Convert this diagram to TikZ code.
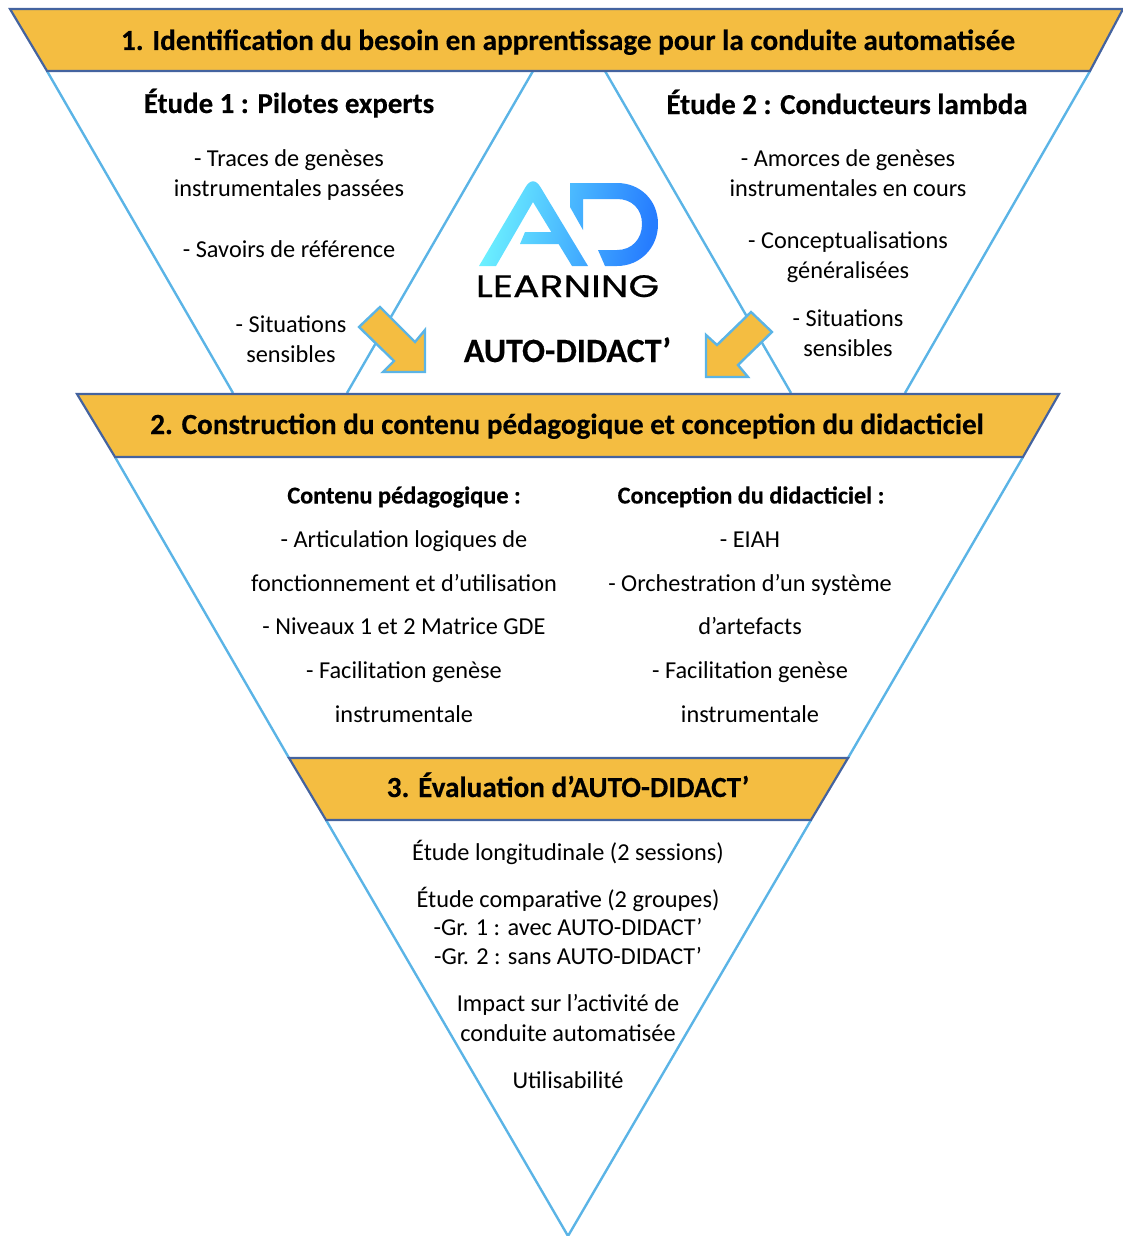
\documentclass[tikz,border=0pt]{standalone}
\usepackage{graphicx}
\usepackage{fontspec}
\setmainfont[BoldFeatures={FakeBold=0.3}]{Carlito}
\newfontfamily\logofont[FakeBold=0.6]{Poppins}
\usetikzlibrary{calc}
\definecolor{bandfill}{HTML}{F4BD41}
\definecolor{bandline}{HTML}{44639F}
\definecolor{triline}{HTML}{5BB4E6}
\tikzset{
  x=1pt,y=-1pt,
  band/.style={fill=bandfill,draw=bandline,line width=2.2pt,line join=miter},
  tri/.style={draw=triline,line width=2.4pt},
  arrowshape/.style={fill=bandfill,draw=triline,line width=2.4pt,line join=miter},
  bandtext/.style={font=\fontsize{29.2}{34}\selectfont\bfseries,inner sep=0pt,anchor=base},
  head/.style={font=\fontsize{28.9}{34}\selectfont\bfseries,inner sep=0pt,anchor=base},
  bighead/.style={font=\fontsize{34}{40}\selectfont\bfseries,inner sep=0pt,anchor=base},
  subhead/.style={font=\fontsize{24.3}{30}\selectfont\bfseries,inner sep=0pt,anchor=base},
  body/.style={font=\fontsize{24.3}{30}\selectfont,align=center,inner sep=0pt},
  line/.style={font=\fontsize{24.3}{30}\selectfont,inner sep=0pt,anchor=base},
  bodyw/.style={font=\fontsize{24.3}{28.5}\selectfont,align=center,inner sep=0pt},
}
\begin{document}
\begin{tikzpicture}
\useasboundingbox (0,0) rectangle (1123,1236);
% light-blue triangles
\draw[tri] (47,71) -- (233,393);
\draw[tri] (533,71) -- (347,393);
\draw[tri] (605,71) -- (791,393);
\draw[tri] (1090,71) -- (905,393);
\draw[tri] (115,457) -- (289,758);
\draw[tri] (1023,457) -- (848,758);
\draw[tri] (326,820) -- (568,1236) -- (811,820);
% bands
\draw[band] (10,9) -- (1123,9) -- (1090,71) -- (47,71) -- cycle;
\draw[band] (77,394) -- (1059,394) -- (1023,457) -- (115,457) -- cycle;
\draw[band] (289,758) -- (848,758) -- (811,820) -- (326,820) -- cycle;
% arrows
\draw[arrowshape] (359,327) -- (380,307) -- (415,342) -- (425,330) -- (425,372) -- (383,372) -- (394,361) -- cycle;
\draw[arrowshape] (751,312) -- (772,332) -- (738,365) -- (748,377) -- (706,377) -- (706,335) -- (717,345) -- cycle;
% logo
\shade[left color=cyan!55!white!95!blue,right color=blue!60!cyan!85!white,shading angle=80]
  (479,266) -- (525,188) .. controls (530,179) and (536,179) .. (541,188)
  -- (588,266) -- (572,266) -- (533,202) -- (496,266) -- cycle
  (525,232) -- (552,232) -- (562,244) -- (520,244) -- cycle
  (570,183) -- (617,183) .. controls (640,183) and (658,200) .. (658,224)
  .. controls (658,248) and (640,266) .. (617,266) -- (605,266) -- (598,250) -- (617,250)
  .. controls (632,250) and (642,239) .. (642,224) .. controls (642,209) and (632,199) .. (617,199)
  -- (583,199) -- (583,230) -- (570,207) -- cycle;
\node[inner sep=0pt,anchor=base,font=\logofont\fontsize{31}{31}\selectfont] (logo) at (567.5,297) {\scalebox{1.27}[1]{LEARNING}};
\node[bighead] (auto) at (567.5,362) {AUTO-DIDACT’};
% band titles
\node[bandtext] (t1) at (568,50) {1. Identification du besoin en apprentissage pour la conduite automatisée};
\node[bandtext] (t2) at (567,434) {2. Construction du contenu pédagogique et conception du didacticiel};
\node[bandtext] (t3) at (568,797) {3. Évaluation d’AUTO-DIDACT’};
% study 1
\node[head] (e1) at (289,113) {Étude 1 : Pilotes experts};
\node[body] (e1a) at (289,175) {- Traces de genèses\\instrumentales passées};
\node[body] (e1b) at (289,249) {- Savoirs de référence};
\node[body] (e1c) at (291,339) {- Situations\\sensibles};
% study 2
\node[head] (e2) at (847,114) {Étude 2 : Conducteurs lambda};
\node[body] (e2a) at (848,173.5) {- Amorces de genèses\\instrumentales en cours};
\node[body] (e2b) at (848,257) {- Conceptualisations\\généralisées};
\node[body] (e2c) at (848,333) {- Situations\\sensibles};
% content
\node[subhead] (c0) at (404,503.5) {Contenu pédagogique :};
\node[line] (c1) at (404,547) {- Articulation logiques de};
\node[line] (c2) at (404,591) {fonctionnement et d’utilisation};
\node[line] (c3) at (404,634.5) {- Niveaux 1 et 2 Matrice GDE};
\node[line] (c4) at (404,678) {- Facilitation genèse};
\node[line] (c5) at (404,722) {instrumentale};
\node[subhead] (d0) at (751,503.5) {Conception du didacticiel :};
\node[line] (d1) at (750,547) {- EIAH};
\node[line] (d2) at (750,591) {- Orchestration d’un système};
\node[line] (d3) at (750,634.5) {d’artefacts};
\node[line] (d4) at (750,678) {- Facilitation genèse};
\node[line] (d5) at (750,722) {instrumentale};
% evaluation
\node[body] (f1) at (568,852) {Étude longitudinale (2 sessions)};
\node[bodyw] (f2) at (568,925.5) {Étude comparative (2 groupes)\\-Gr. 1 : avec AUTO-DIDACT’\\-Gr. 2 : sans AUTO-DIDACT’};
\node[body] (f3) at (568,1018) {Impact sur l’activité de\\conduite automatisée};
\node[body] (f4) at (568,1080) {Utilisabilité};
\end{tikzpicture}
\end{document}
